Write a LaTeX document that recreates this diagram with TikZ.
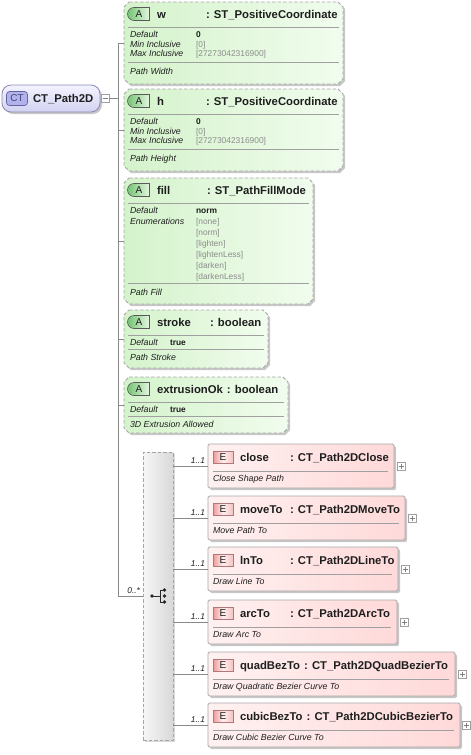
\documentclass[tikz,border=0pt]{standalone}
\usepackage{fontspec}
\setmainfont{Liberation Sans}
\usetikzlibrary{shapes.misc,shadows,calc}
\definecolor{connC}{HTML}{8A8A8A}
\definecolor{bordC}{HTML}{A6A6A6}
\definecolor{sepC}{HTML}{A0A0A0}
\definecolor{txtC}{HTML}{1E1E1E}
\definecolor{valC}{HTML}{8C8C8C}
\definecolor{attrD}{HTML}{D4F3CB}
\definecolor{attrL}{HTML}{F1FCEE}
\definecolor{elemL}{HTML}{FFF1F1}
\definecolor{elemD}{HTML}{FFD9D9}
\definecolor{elemB}{HTML}{A8A8A8}
\definecolor{aBadgeD}{HTML}{74C474}
\definecolor{aBadgeL}{HTML}{E6F7E2}
\definecolor{aBadgeB}{HTML}{5A5A5A}
\definecolor{eBadgeD}{HTML}{EE9A9A}
\definecolor{eBadgeL}{HTML}{FFEFEF}
\definecolor{eBadgeB}{HTML}{B07878}
\definecolor{ctL}{HTML}{F3F3FF}
\definecolor{ctD}{HTML}{D2D2F2}
\definecolor{ctB}{HTML}{8A8AB4}
\definecolor{ctBadge}{HTML}{B2B2EC}
\definecolor{ctBadgeB}{HTML}{6464A4}
\definecolor{seqL}{HTML}{F6F6F6}
\definecolor{seqD}{HTML}{D8D8D8}
\definecolor{plusC}{HTML}{A0A0A0}
\definecolor{iconC}{HTML}{2A2A2A}
\newcommand\xhdr{\fontsize{11.3}{13}\selectfont\bfseries}
\newcommand\xlbl{\fontsize{8.8}{10}\selectfont\itshape}
\newcommand\xval{\fontsize{8.4}{10}\selectfont}
\newcommand\xvalb{\fontsize{8.4}{10}\selectfont\bfseries}
\newcommand\xbadge{\fontsize{10}{12}\selectfont}
\newcommand\xmult{\fontsize{8.4}{10}\selectfont\itshape}
\newcommand\octpath[1]{($(#1.north west)+(5,0)$) -- ($(#1.north east)+(-5,0)$) -- ($(#1.north east)+(0,5)$) -- ($(#1.south east)+(0,-5)$) -- ($(#1.south east)+(-5,0)$) -- ($(#1.south west)+(5,0)$) -- ($(#1.south west)+(0,-5)$) -- ($(#1.north west)+(0,5)$) -- cycle}
\begin{document}
\begin{tikzpicture}[x=1pt,y=-1pt,
  every node/.style={inner sep=0pt,outer sep=0pt},
  conn/.style={draw=connC,line width=0.8pt},
  area/.style={rectangle,draw=none,anchor=north west},
  shadowed/.style={drop shadow={shadow xshift=2pt,shadow yshift=-2pt,opacity=0.22,fill=black}},
  attrshape/.style={draw=bordC,line width=0.8pt,dash pattern=on 3.5pt off 2pt,left color=attrD,right color=attrL,shadowed},
  elem/.style={rectangle,rounded corners=1.5pt,draw=elemB,line width=0.8pt,left color=elemL,right color=elemD,anchor=north west,shadowed},
  hdr/.style={anchor=base west,font=\xhdr,text=txtC},
  lbl/.style={anchor=base west,font=\xlbl,text=txtC},
  val/.style={anchor=base west,font=\xval,text=valC},
  valb/.style={anchor=base west,font=\xvalb,text=txtC},
  sepl/.style={draw=sepC,line width=0.7pt},
  abadge/.style={rounded rectangle,rounded rectangle right arc=none,minimum width=22pt,minimum height=13pt,draw=aBadgeB,line width=0.6pt,left color=aBadgeD,right color=aBadgeL,font=\xbadge,text=txtC},
  ebadge/.style={rectangle,minimum width=20pt,minimum height=12pt,draw=eBadgeB,line width=0.6pt,left color=eBadgeD,right color=eBadgeD!60,middle color=eBadgeL,font=\xbadge,text=txtC},
  mult/.style={anchor=base east,font=\xmult,text=txtC},
  plusbox/.style={rectangle,draw=plusC,fill=white,minimum size=8pt,line width=0.6pt},
  plusline/.style={draw=plusC!80!black,line width=0.6pt}
]
\useasboundingbox (0,0) rectangle (471,755);

% ---------- complex type ----------
\node[rectangle,rounded corners=9pt,draw=ctB,line width=0.8pt,top color=ctL,bottom color=ctD,anchor=north west,minimum width=98pt,minimum height=27pt,shadowed] (ct) at (2,85) {};
\node[rectangle,rounded corners=3pt,draw=ctBadgeB,line width=0.7pt,fill=ctBadge,minimum width=21pt,minimum height=14pt,font=\xbadge,text=ctBadgeB!70!black] (ctbadge) at (17,98.5) {CT};
\node[hdr] (ctname) at (33,102.5) {CT\_Path2D};
\node[plusbox] (ctm) at (105,98.5) {};
\draw[plusline] ($(ctm.center)+(-2.5,0)$) -- ($(ctm.center)+(2.5,0)$);
\coordinate (tr) at (118,0);

% ---------- attribute w ----------
\node[area,minimum width=219pt,minimum height=82pt] (w) at (124,2) {};
\draw[attrshape] \octpath{w};
\node[abadge] (wb) at (139,14) {A};
\node[hdr] (wn) at (157,18) {w};
\node[hdr] (wt) at (206,18) {: ST\_PositiveCoordinate};
\draw[sepl] (128,27) -- (339,27);
\node[lbl] (wl1) at (130,37.5) {Default};
\node[valb] (wv1) at (196,37.5) {0};
\node[lbl] (wl2) at (130,47) {Min Inclusive};
\node[val] (wv2) at (196,47) {[0]};
\node[lbl] (wl3) at (130,56.5) {Max Inclusive};
\node[val] (wv3) at (196,56.5) {[27273042316900]};
\draw[sepl] (128,62) -- (339,62);
\node[lbl] (wd) at (130,74) {Path Width};

% ---------- attribute h ----------
\node[area,minimum width=219pt,minimum height=82pt] (h) at (124,89) {};
\draw[attrshape] \octpath{h};
\node[abadge] (hb) at (139,101) {A};
\node[hdr] (hn) at (157,105) {h};
\node[hdr] (ht) at (206,105) {: ST\_PositiveCoordinate};
\draw[sepl] (128,114) -- (339,114);
\node[lbl] (hl1) at (130,124.5) {Default};
\node[valb] (hv1) at (196,124.5) {0};
\node[lbl] (hl2) at (130,134) {Min Inclusive};
\node[val] (hv2) at (196,134) {[0]};
\node[lbl] (hl3) at (130,143.5) {Max Inclusive};
\node[val] (hv3) at (196,143.5) {[27273042316900]};
\draw[sepl] (128,149) -- (339,149);
\node[lbl] (hd) at (130,161) {Path Height};

% ---------- attribute fill ----------
\node[area,minimum width=189pt,minimum height=126pt] (fl) at (124,178) {};
\draw[attrshape] \octpath{fl};
\node[abadge] (fb) at (139,190) {A};
\node[hdr] (fn) at (157,194) {fill};
\node[hdr] (ft) at (207,194) {: ST\_PathFillMode};
\draw[sepl] (128,203) -- (309,203);
\node[lbl] (fl1) at (130,213.5) {Default};
\node[valb] (fv1) at (196,213.5) {norm};
\node[lbl] (fl2) at (130,224.5) {Enumerations};
\node[val] (fe1) at (196,224.5) {[none]};
\node[val] (fe2) at (196,235.4) {[norm]};
\node[val] (fe3) at (196,246.3) {[lighten]};
\node[val] (fe4) at (196,257.2) {[lightenLess]};
\node[val] (fe5) at (196,268.1) {[darken]};
\node[val] (fe6) at (196,279) {[darkenLess]};
\draw[sepl] (128,283.5) -- (309,283.5);
\node[lbl] (fd) at (130,295) {Path Fill};

% ---------- attribute stroke ----------
\node[area,minimum width=144pt,minimum height=58pt] (st) at (124,310) {};
\draw[attrshape] \octpath{st};
\node[abadge] (sb) at (139,322) {A};
\node[hdr] (sn) at (157,326) {stroke};
\node[hdr] (stt) at (210,326) {: boolean};
\draw[sepl] (128,335) -- (264,335);
\node[lbl] (sl1) at (130,345) {Default};
\node[valb] (sv1) at (170,345) {true};
\draw[sepl] (128,349.5) -- (264,349.5);
\node[lbl] (sd) at (130,360) {Path Stroke};

% ---------- attribute extrusionOk ----------
\node[area,minimum width=164pt,minimum height=56pt] (ex) at (124,377) {};
\draw[attrshape] \octpath{ex};
\node[abadge] (eb) at (139,389) {A};
\node[hdr] (en) at (157,393) {extrusionOk};
\node[hdr] (et) at ($(en.base east)+(4,0)$) {: boolean};
\draw[sepl] (128,402) -- (284,402);
\node[lbl] (el1) at (130,412) {Default};
\node[valb] (ev1) at (170,412) {true};
\draw[sepl] (128,416.5) -- (284,416.5);
\node[lbl] (ed) at (130,427) {3D Extrusion Allowed};

% ---------- sequence compositor ----------
\node[rectangle,anchor=north west,minimum width=30pt,minimum height=288pt,draw=bordC,line width=0.8pt,dash pattern=on 3.5pt off 2pt,left color=seqL,right color=seqD,drop shadow={shadow xshift=1.5pt,shadow yshift=-1.5pt,opacity=0.15,fill=black}] (seq) at (143,452) {};
\fill[iconC] (152,596) circle (1.9);
\fill[iconC] (164.5,590) circle (1.9);
\fill[iconC] (164.5,596) circle (1.9);
\fill[iconC] (164.5,602) circle (1.9);
\draw[iconC,line width=0.8pt] (152,596) -- (160,596) (160,590) -- (160,602) (160,590) -- (164.5,590) (160,602) -- (164.5,602);

% ---------- elements ----------
\node[elem,minimum width=186pt,minimum height=44pt] (close) at (208,444) {};
\node[ebadge] (cb) at (223,457.5) {E};
\node[hdr] (cn) at (240,461) {close};
\node[hdr] (ctp) at (290,461) {: CT\_Path2DClose};
\draw[sepl] (213,471) -- (388,471);
\node[lbl] (cd) at (213,481) {Close Shape Path};
\node[plusbox] (pc) at (401,466) {};

\node[elem,minimum width=197pt,minimum height=44pt] (move) at (208,496) {};
\node[ebadge] (mb) at (223,509.5) {E};
\node[hdr] (mn) at (240,513) {moveTo};
\node[hdr] (mtp) at (290,513) {: CT\_Path2DMoveTo};
\draw[sepl] (213,523) -- (399,523);
\node[lbl] (md) at (213,533) {Move Path To};
\node[plusbox] (pm) at (412,518) {};

\node[elem,minimum width=190pt,minimum height=44pt] (line) at (208,547) {};
\node[ebadge] (lb) at (223,560.5) {E};
\node[hdr] (ln) at (240,564) {lnTo};
\node[hdr] (ltp) at (290,564) {: CT\_Path2DLineTo};
\draw[sepl] (213,574) -- (392,574);
\node[lbl] (ld) at (213,584) {Draw Line To};
\node[plusbox] (pl) at (405,569) {};

\node[elem,minimum width=189pt,minimum height=44pt] (arc) at (208,600) {};
\node[ebadge] (ab) at (223,613.5) {E};
\node[hdr] (an) at (240,617) {arcTo};
\node[hdr] (atp) at (290,617) {: CT\_Path2DArcTo};
\draw[sepl] (213,627) -- (391,627);
\node[lbl] (ad) at (213,637) {Draw Arc To};
\node[plusbox] (pa) at (404,622) {};

\node[elem,minimum width=247pt,minimum height=44pt] (quad) at (208,652) {};
\node[ebadge] (qb) at (223,665.5) {E};
\node[hdr] (qn) at (240,669) {quadBezTo};
\node[hdr] (qtp) at ($(qn.base east)+(4,0)$) {: CT\_Path2DQuadBezierTo};
\draw[sepl] (213,679) -- (449,679);
\node[lbl] (qd) at (213,689) {Draw Quadratic Bezier Curve To};
\node[plusbox] (pq) at (462,674) {};

\node[elem,minimum width=252pt,minimum height=44pt] (cubic) at (208,703) {};
\node[ebadge] (kb) at (223,716.5) {E};
\node[hdr] (kn) at (240,720) {cubicBezTo};
\node[hdr] (ktp) at ($(kn.base east)+(4,0)$) {: CT\_Path2DCubicBezierTo};
\draw[sepl] (213,730) -- (454,730);
\node[lbl] (kd) at (213,740) {Draw Cubic Bezier Curve To};
\node[plusbox] (pk) at (466.5,725) {};

\foreach \p in {pc,pm,pl,pa,pq,pk}{
  \draw[plusline] ($(\p.center)+(-2.5,0)$) -- ($(\p.center)+(2.5,0)$) ($(\p.center)+(0,-2.5)$) -- ($(\p.center)+(0,2.5)$);
}

% ---------- connectors ----------
\draw[conn] (ctm.east) -- (ctm.east -| tr);
\draw[conn] (w.west) -- (w.west -| tr) |- (seq.west);
\draw[conn] (h.west) -- (h.west -| tr);
\draw[conn] (fl.west) -- (fl.west -| tr);
\draw[conn] (st.west) -- (st.west -| tr);
\draw[conn] (ex.west) -- (ex.west -| tr);
\node[mult] (m0) at (140,593) {0..*};
\foreach \e/\m in {close/m1,move/m2,line/m3,arc/m4,quad/m5,cubic/m6}{
  \draw[conn] (seq.east |- \e.west) -- (\e.west);
  \node[mult] (\m) at ($(\e.west)+(-3,-2.5)$) {1..1};
}
\end{tikzpicture}
\end{document}
